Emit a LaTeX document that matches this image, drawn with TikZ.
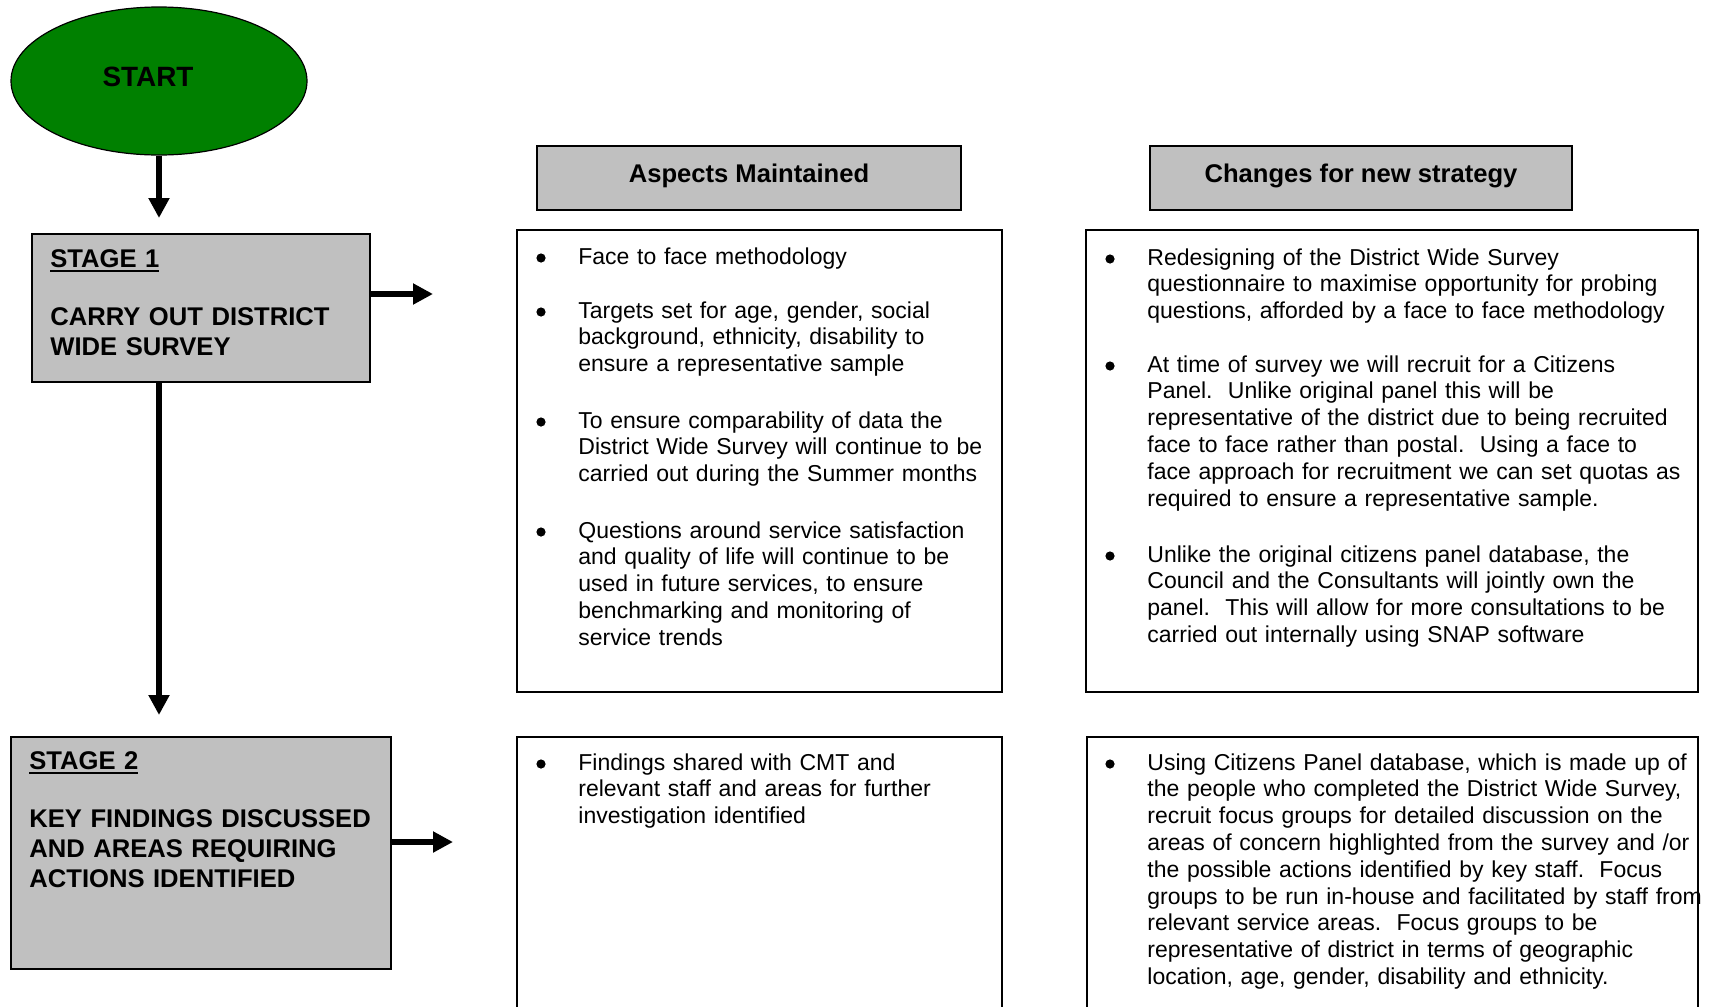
\documentclass[tikz,border=0pt]{standalone}
\usepackage{fontspec}
\setmainfont{Liberation Sans}
\usetikzlibrary{arrows.meta,shapes.geometric,fit}
\definecolor{startgreen}{RGB}{0,128,0}
\definecolor{boxgray}{RGB}{192,192,192}
\newcommand\stageul[1]{\setbox0\hbox{#1}\rlap{\rule[-2.6pt]{\wd0}{1.1pt}}\box0}
\frenchspacing
\begin{document}
\begin{tikzpicture}[x=0.5pt,y=-0.5pt,
  box/.style={draw, line width=0.6pt, inner sep=0pt},
  graybox/.style={box, fill=boxgray},
  arr/.style={line width=3.3pt, -{Triangle[length=10pt,width=10pt]}},
  bodytxt/.style={anchor=base west, inner sep=0pt, text width=320pt, align=left, font=\frenchspacing\fontsize{11.5}{13.4}\selectfont},
  dot/.style={circle, fill=black, inner sep=0pt, minimum size=4.6pt},
  stagetxt/.style={anchor=base west, inner sep=0pt, text width=220pt, align=left, font=\bfseries\fontsize{12.8}{15}\selectfont},
  headtxt/.style={anchor=base, inner sep=0pt, font=\bfseries\fontsize{12.8}{15}\selectfont}]
\useasboundingbox (0,0) rectangle (1709,1007);
\fill[white] (0,0) rectangle (1709,1007);
\clip (0,0) rectangle (1709,1007);

% start
\node[ellipse, draw, fill=startgreen, line width=0.6pt, minimum width=148pt, minimum height=74pt, inner sep=0pt] (start) at (159,81) {};
\node[anchor=base, inner sep=0pt, font=\bfseries\fontsize{13.95}{16}\selectfont] (starttxt) at (148,86) {START};

% stage boxes
\node[graybox, fit={(32,234) (370,382)}] (stage1) {};
\node[stagetxt] (s1a) at (50,267) {\stageul{STAGE 1}};
\node[stagetxt] (s1b) at (50,325) {CARRY OUT DISTRICT\\WIDE SURVEY};

\node[graybox, fit={(11,737) (391,969)}] (stage2) {};
\node[stagetxt] (s2a) at (29,769) {\stageul{STAGE 2}};
\node[stagetxt] (s2b) at (29,827) {KEY FINDINGS DISCUSSED\\AND AREAS REQUIRING\\ACTIONS IDENTIFIED};

% headers
\node[graybox, fit={(537,146) (961,210)}] (head1) {};
\node[headtxt] (head1txt) at (749,182) {Aspects Maintained};
\node[graybox, fit={(1150,146) (1572,210)}] (head2) {};
\node[headtxt] (head2txt) at (1361,182) {Changes for new strategy};

% content boxes
\node[box, fit={(517,230) (1002,692)}] (mid1) {};
\node[box, fit={(1086,230) (1698,692)}] (right1) {};
\node[box, fit={(517,737) (1002,1040)}] (mid2) {};
\node[box, fit={(1087,737) (1698,1040)}] (right2) {};

% middle top items
\node[dot] (m1b) at (541,258) {};
\node[bodytxt] (m1) at (578,264) {Face to face methodology};
\node[dot] (m2b) at (541,312) {};
\node[bodytxt] (m2) at (578,318) {Targets set for age, gender, social\\background, ethnicity, disability to\\ensure a representative sample};
\node[dot] (m3b) at (541,422) {};
\node[bodytxt] (m3) at (578,428) {To ensure comparability of data the\\District Wide Survey will continue to be\\carried out during the Summer months};
\node[dot] (m4b) at (541,532) {};
\node[bodytxt] (m4) at (578,538) {Questions around service satisfaction\\and quality of life will continue to be\\used in future services, to ensure\\benchmarking and monitoring of\\service trends};

% right top items
\node[dot] (r1b) at (1110,259) {};
\node[bodytxt] (r1) at (1147,265) {Redesigning of the District Wide Survey\\questionnaire to maximise opportunity for probing\\questions, afforded by a face to face methodology};
\node[dot] (r2b) at (1110,366) {};
\node[bodytxt] (r2) at (1147,372) {At time of survey we will recruit for a Citizens\\Panel.~ Unlike original panel this will be\\representative of the district due to being recruited\\face to face rather than postal.~ Using a face to\\face approach for recruitment we can set quotas as\\required to ensure a representative sample.};
\node[dot] (r3b) at (1110,556) {};
\node[bodytxt] (r3) at (1147,562) {Unlike the original citizens panel database, the\\Council and the Consultants will jointly own the\\panel.~ This will allow for more consultations to be\\carried out internally using SNAP software};

% bottom items
\node[dot] (m5b) at (541,764) {};
\node[bodytxt] (m5) at (578,770) {Findings shared with CMT and\\relevant staff and areas for further\\investigation identified};
\node[dot] (r4b) at (1110,764) {};
\node[bodytxt] (r4) at (1147,770) {Using Citizens Panel database, which is made up of\\the people who completed the District Wide Survey,\\recruit focus groups for detailed discussion on the\\areas of concern highlighted from the survey and /or\\the possible actions identified by key staff.~ Focus\\groups to be run in-house and facilitated by staff from\\relevant service areas.~ Focus groups to be\\representative of district in terms of geographic\\location, age, gender, disability and ethnicity.};

% arrows
\coordinate (a1) at (159,218);
\draw[arr] (start.south) -- (a1);
\coordinate (a2) at (433,294);
\draw[arr] (stage1.east |- a2) -- (a2);
\coordinate (a3) at (159,715);
\draw[arr] (a3 |- stage1.south) -- (a3);
\coordinate (a4) at (453,842);
\draw[arr] (stage2.east |- a4) -- (a4);
\end{tikzpicture}
\end{document}
